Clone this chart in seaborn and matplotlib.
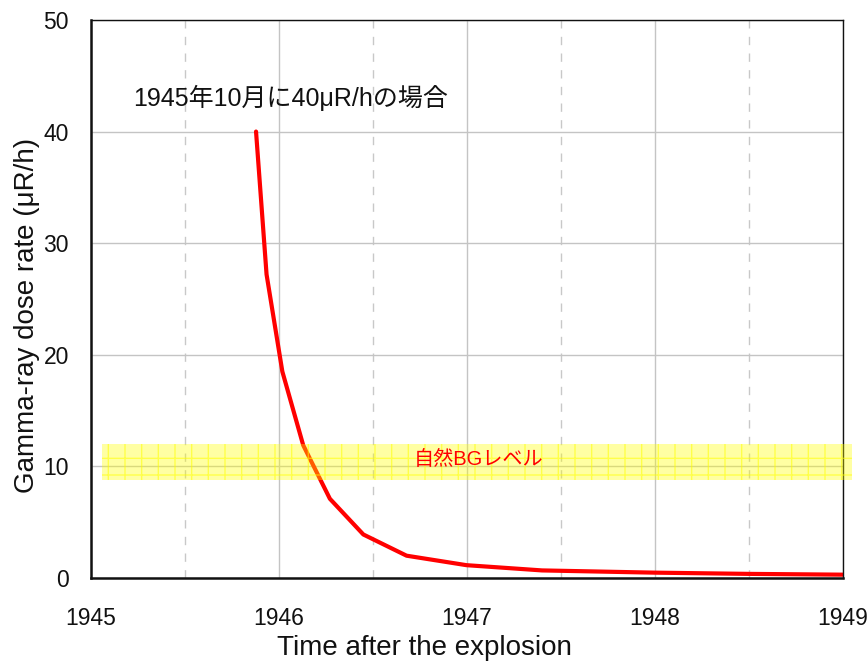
import matplotlib
matplotlib.use('Agg')
import matplotlib.pyplot as plt
import seaborn as sns
import pandas as pd

# 데이터
years = [1945.878, 1945.934, 1946.018, 1946.129, 1946.271, 1946.449,
         1946.679, 1946.998, 1947.4, 1948.0, 1948.5, 1949.0]
dose_rate = [40.0, 27.2, 18.5, 11.9, 7.1, 3.9, 2.0, 1.15, 0.68, 0.48, 0.37, 0.30]
bg_low, bg_high = 8.8, 12.0
x_ticks = [1945, 1946, 1947, 1948, 1949]
y_ticks = [0, 10, 20, 30, 40, 50]
note_text = '1945年10月に40μR/hの場合'
bg_text = '自然BGレベル'

df = pd.DataFrame({'year': years, 'dose': dose_rate})

sns.set_style('white')
plt.rcParams['font.family'] = ['Liberation Sans', 'Noto Sans CJK JP', 'DejaVu Sans']

fig = plt.figure(figsize=(8.67, 6.64), dpi=100)
ax = fig.add_axes([0.105, 0.1295, 0.867, 0.8405])

sns.lineplot(data=df, x='year', y='dose', color='#ff0000', linewidth=3, ax=ax, zorder=2)

# 자연 BG 밴드
ax.axhspan(bg_low, bg_high, xmin=0.0146, xmax=1.012, facecolor=(1, 1, 0, 0.36),
           edgecolor=(1, 1, 0, 0.55), hatch='+', linewidth=0, clip_on=False, zorder=3)
ax.text(1947.06, 10.6, bg_text, color='#ff0000', fontsize=14.5, ha='center', va='center', zorder=4)

ax.text(1946.06, 43.0, note_text, fontsize=18, ha='center', va='center', color='#111111')

ax.set_xlim(1945, 1949)
ax.set_ylim(0, 50)
ax.set_xticks(x_ticks)
ax.set_xticks([1945.5, 1946.5, 1947.5, 1948.5], minor=True)
ax.set_yticks(y_ticks)
ax.set_xticklabels([str(t) for t in x_ticks])

ax.grid(which='major', color='#c4c4c4', linewidth=1, linestyle='-')
ax.grid(which='minor', axis='x', color='#c8c8c8', linewidth=1, linestyle=(0, (6, 6)))
ax.set_axisbelow(True)

ax.tick_params(axis='both', which='major', direction='in', length=7, width=1.2,
               color='black', labelsize=16.5, labelcolor='#111111')
ax.tick_params(axis='x', which='major', pad=21)
ax.tick_params(axis='y', which='major', pad=16)
ax.tick_params(which='minor', length=0)

for side in ['left', 'bottom']:
    ax.spines[side].set_linewidth(1.8)
    ax.spines[side].set_color('#111111')
for side in ['top', 'right']:
    ax.spines[side].set_linewidth(1.0)
    ax.spines[side].set_color('#111111')
    ax.spines[side].set_visible(True)

ax.set_xlabel('Time after the explosion', fontsize=20, color='#111111')
ax.set_ylabel('Gamma-ray dose rate (μR/h)', fontsize=20, color='#111111')
ax.xaxis.set_label_coords(0.444, -0.103)
ax.yaxis.set_label_coords(-0.068, 0.47)

fig.savefig('out.png', dpi=100)
